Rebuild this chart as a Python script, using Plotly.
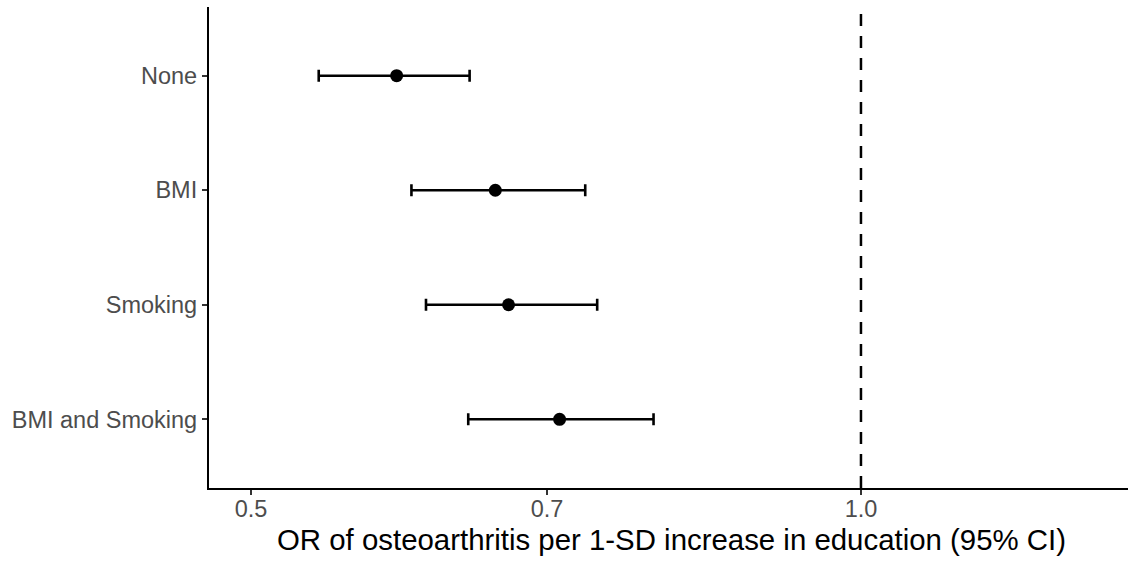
import numpy as np
import plotly.graph_objects as go

categories = ["None", "BMI", "Smoking", "BMI and Smoking"]
or_est = [0.590, 0.660, 0.670, 0.710]
ci_low = [0.540, 0.600, 0.610, 0.640]
ci_high = [0.641, 0.731, 0.741, 0.790]
x_ticks = [0.5, 0.7, 1.0]
x_tick_labels = ["0.5", "0.7", "1.0"]
ref_line = 1.0
x_title = "OR of osteoarthritis per 1-SD increase in education (95% CI)"

est = np.array(or_est)
fig = go.Figure()
fig.add_trace(go.Scatter(
    x=or_est, y=categories, mode="markers",
    marker=dict(color="black", size=13),
    error_x=dict(type="data", symmetric=False,
                 array=list(np.array(ci_high) - est),
                 arrayminus=list(est - np.array(ci_low)),
                 color="black", thickness=2.6, width=6),
    showlegend=False,
))
fig.add_shape(type="line", x0=ref_line, x1=ref_line, xref="x", y0=0, y1=1, yref="paper",
              line=dict(color="black", width=2.5, dash="12px,10px"))
fig.add_annotation(text=x_title, xref="paper", yref="paper", x=0.5033, y=-0.1075,
                   xanchor="center", yanchor="middle", showarrow=False,
                   font=dict(size=29.4, color="black"))
fig.update_layout(
    width=1128, height=564,
    margin=dict(l=209, r=0, t=7, b=76),
    plot_bgcolor="white", paper_bgcolor="white",
    font=dict(family="Liberation Sans, Arial, sans-serif"),
    xaxis=dict(type="log", range=[np.log10(0.4767), np.log10(1.3545)],
               tickvals=x_ticks, ticktext=x_tick_labels,
               showline=True, linecolor="black", linewidth=2.2,
               ticks="outside", ticklen=5, tickwidth=2, tickcolor="#333333",
               tickfont=dict(size=23.5, color="#4D4D4D"),
               ticklabelstandoff=-6,
               showgrid=False, zeroline=False),
    yaxis=dict(type="category", categoryorder="array", categoryarray=categories,
               range=[3.6, -0.6],
               showline=True, linecolor="black", linewidth=2.2,
               ticks="outside", ticklen=5, tickwidth=2, tickcolor="#333333",
               tickfont=dict(size=23.5, color="#4D4D4D"),
               showgrid=False, zeroline=False),
)
fig.write_html("out.html")
